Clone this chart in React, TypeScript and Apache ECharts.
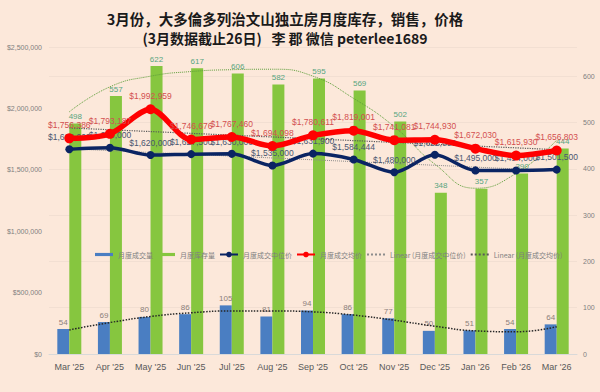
import React, { useEffect, useRef } from "react";
import * as echarts from "echarts";

const months = ["Mar '25", "Apr '25", "May '25", "Jun '25", "Jul '25", "Aug '25", "Sep '25", "Oct '25", "Nov '25", "Dec '25", "Jan '26", "Feb '26", "Mar '26"];
const sales = [54, 69, 80, 86, 105, 81, 94, 86, 77, 50, 51, 54, 64];
const inventory = [498, 557, 622, 617, 606, 582, 595, 569, 502, 348, 357, 390, 444];
const medianPrice = [1668000, 1680000, 1620000, 1627500, 1630000, 1535000, 1631900, 1584444, 1480000, 1622000, 1495000, 1494000, 1501500];
const avgPrice = [1756386, 1793187, 1992959, 1746676, 1767460, 1694098, 1780611, 1819001, 1741081, 1744930, 1672030, 1615930, 1656803];
// trend lines
const salesTrend = [52, 68, 81, 89, 93, 93, 91, 84, 73, 60, 50, 48, 59];
const inventoryTrend = [523, 577, 600, 610, 614, 615, 600, 552, 491, 410, 358, 390, 462];
const medianLinear = [1671000, null, null, null, null, null, null, null, null, null, null, null, 1492000];
const avgLinear = [1841000, null, null, null, null, null, null, null, null, null, null, null, 1664000];

const titleLine1 = "3月份，大多倫多列治文山独立房月度库存，销售，价格";
const titleLine2 = "(3月数据截止26日)   李 郡 微信 peterlee1689";

const money = (v: number) => "$" + Number(v).toLocaleString("en-US");

export default function App() {
  const ref = useRef<HTMLDivElement>(null);
  useEffect(() => {
    const chart = echarts.init(ref.current!, null, { renderer: "svg" });
    const barPath = "path://M0,0L20,0L20,3.5L0,3.5Z";
    chart.setOption({
      animation: false,
      backgroundColor: "#FCE8DA",
      textStyle: { fontFamily: '"Liberation Sans", "Noto Sans CJK SC", sans-serif' },
      grid: { left: 49, right: 23, top: 47, bottom: 38 },
      graphic: [
        {
          type: "text", x: 285, y: 18.5,
          style: { text: titleLine1, textAlign: "center", textVerticalAlign: "middle", fontSize: 14.5, fontWeight: "bold", fontFamily: '"Noto Sans CJK SC", sans-serif', fill: "#1a1a1a" },
        },
        {
          type: "text", x: 285, y: 37.5,
          style: { text: titleLine2, textAlign: "center", textVerticalAlign: "middle", fontSize: 14, fontWeight: "bold", fontFamily: '"Noto Sans CJK SC", sans-serif', fill: "#1a1a1a" },
        },
      ],
      legend: {
        left: 90, top: 246, width: 520, itemWidth: 18, itemHeight: 7, itemGap: 4,
        textStyle: { fontSize: 7, color: "#7F7F7F", fontFamily: '"Noto Sans CJK SC", sans-serif' },
        data: [
          { name: "月度成交量", icon: barPath },
          { name: "月度库存量", icon: barPath },
          { name: "月度成交中位价" },
          { name: "月度成交均价" },
          { name: "Linear (月度成交中位价)", itemStyle: { opacity: 0 } },
          { name: "Linear (月度成交均价)", itemStyle: { opacity: 0 } },
        ],
      },
      xAxis: {
        type: "category", data: months,
        axisTick: { show: false },
        axisLine: { lineStyle: { color: "#D9D9D9" } },
        axisLabel: { fontSize: 9, color: "#595959", margin: 8 },
      },
      yAxis: [
        {
          type: "value", min: 0, max: 2500000, interval: 500000,
          axisLabel: { fontSize: 7, color: "#7F7F7F", formatter: (v: number) => money(v), margin: 7 },
          splitLine: { show: false }, axisLine: { show: false }, axisTick: { show: false },
        },
        {
          type: "value", min: 0, max: 663, interval: 100,
          axisLabel: { fontSize: 7, color: "#7F7F7F", showMaxLabel: false, margin: 6 },
          splitLine: { lineStyle: { color: "#F2DFD2" } }, axisLine: { show: false }, axisTick: { show: false },
        },
      ],
      series: [
        {
          name: "月度成交量", type: "bar", yAxisIndex: 1, data: sales, barWidth: 12, barGap: "0%",
          itemStyle: { color: "#4A7EC2" },
          label: { show: true, position: "top", fontSize: 8, color: "#8C7F7A", distance: 3 },
          z: 1,
        },
        {
          name: "月度库存量", type: "bar", yAxisIndex: 1, data: inventory, barWidth: 12, barGap: "0%",
          itemStyle: { color: "#86C63F" },
          label: { show: true, position: "top", fontSize: 8, color: "#57A57F", distance: 3 },
          z: 1,
        },
        {
          name: "salesTrend", type: "line", yAxisIndex: 1, data: salesTrend, smooth: true, symbol: "none",
          lineStyle: { type: "dotted", width: 1.5, color: "#262626" }, z: 3, silent: true,
        },
        {
          name: "inventoryTrend", type: "line", yAxisIndex: 1, data: inventoryTrend, smooth: true, symbol: "none",
          lineStyle: { type: "dotted", width: 1, color: "#5E9E3A" }, z: 3, silent: true,
        },
        {
          name: "Linear (月度成交中位价)", type: "line", yAxisIndex: 0, data: medianLinear, connectNulls: true, symbol: "none",
          lineStyle: { type: "dotted", width: 1, color: "#8C8C8C" }, itemStyle: { color: "#8C8C8C" }, z: 3,
        },
        {
          name: "Linear (月度成交均价)", type: "line", yAxisIndex: 0, data: avgLinear, connectNulls: true, symbol: "none",
          lineStyle: { type: "dotted", width: 1.2, color: "#595959" }, itemStyle: { color: "#595959" }, z: 3,
        },
        {
          name: "月度成交中位价", type: "line", yAxisIndex: 0, data: medianPrice, smooth: 0.3,
          symbol: "circle", symbolSize: 8,
          lineStyle: { width: 3.5, color: "#0A2463" }, itemStyle: { color: "#0A2463" },
          label: { show: true, position: "top", fontSize: 8.5, color: "#4A5670", formatter: (p: any) => money(p.value), distance: 4 },
          z: 5,
        },
        {
          name: "月度成交均价", type: "line", yAxisIndex: 0, data: avgPrice, smooth: 0.3,
          symbol: "circle", symbolSize: 10,
          lineStyle: { width: 5.5, color: "#FF0000" }, itemStyle: { color: "#FF0000" },
          label: { show: true, position: "top", fontSize: 8.5, color: "#D35050", formatter: (p: any) => money(p.value), distance: 4 },
          z: 6,
        },
      ],
    });
    return () => chart.dispose();
  }, []);
  return <div ref={ref} style={{ position: "fixed", left: 0, top: 0, width: 600, height: 392 }} />;
}
